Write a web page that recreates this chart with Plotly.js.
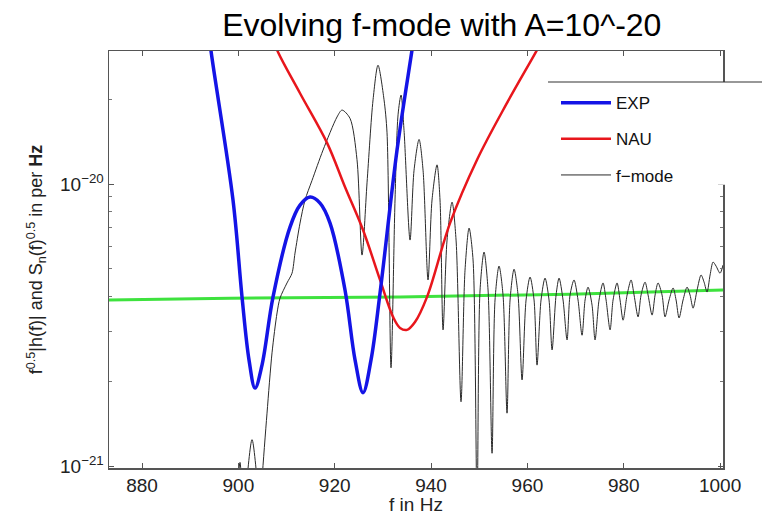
<!DOCTYPE html>
<html><head><meta charset="utf-8">
<script src="https://cdn.plot.ly/plotly-3.0.1.min.js"></script>
<style>html,body{margin:0;padding:0;background:#fff}#chart{width:762px;height:515px}</style>
</head><body><div id="chart"></div>
<script>
// all amplitudes in units of 1e-21 (per Hz^0.5)
const UNIT = 1e-21;

const expFreq = [893.29, 894.32, 898.89, 900.76, 902.21, 903.46, 904.91, 907.20, 910.72, 912.80, 914.88, 916.95, 919.03, 922.14, 924.22, 925.88, 927.54, 929.41, 932.94, 936.05, 937.30];
const expVal  = [41.4, 29.7, 8.78, 3.98, 2.38, 1.89, 2.28, 3.98, 7.04, 8.42, 8.99, 8.56, 7.27, 4.21, 2.38, 1.82, 2.38, 4.11, 13.2, 29.9, 41.4];

const nauFreq = [906.57, 908.03, 912.80, 918.41, 922.14, 925.88, 929.41, 932.11, 933.56, 935.01, 936.67, 939.17, 943.94, 949.55, 955.77, 962.00, 963.66];
const nauVal  = [35.2, 29.9, 21.0, 14.0, 9.76, 6.87, 4.57, 3.38, 3.09, 3.04, 3.24, 3.98, 7.27, 12.2, 19.4, 29.9, 33.8];

const noiseFreq = [873.15, 898.3, 933.6, 968.9, 1000.6];
const noiseVal  = [3.88, 3.94, 3.98, 4.07, 4.21];

const fmodeFreq = [899.51, 900.34, 901.18, 901.59, 902.84, 904.08, 904.50, 904.91,
  905.95, 906.99, 908.03, 908.65, 910.10, 911.14, 911.76, 912.80, 913.84, 915.29, 917.58, 920.48,
  921.52, 923.18, 924.63, 925.67, 926.71, 927.96, 928.99, 930.24, 930.86, 931.69,
  932.52, 933.15, 933.77, 934.39, 935.64, 936.47, 937.51, 938.34, 939.37, 940.20,
  941.24, 941.86, 942.49, 943.32, 944.36, 945.19, 946.22, 947.05, 947.89, 948.72,
  949.55, 950.17, 951.00, 951.83, 952.66, 953.28, 954.11, 954.94, 955.77, 956.40,
  957.23, 958.06, 958.89, 959.72, 960.55, 961.38, 962.00, 962.83, 963.66, 964.49,
  965.12, 965.95, 966.57, 967.40, 968.23, 968.85, 969.68, 970.51, 971.34, 971.97,
  972.59, 973.42, 974.04, 974.87, 975.70, 976.33, 977.16, 977.78, 978.61, 979.23,
  979.86, 980.69, 981.52, 982.14, 982.97, 983.59, 984.42, 985.05, 985.88, 986.50,
  987.12, 987.95, 988.57, 989.41, 990.24, 990.86, 991.48, 992.31, 993.14, 993.76,
  994.39, 995.22, 996.05, 996.67, 997.29, 997.92, 998.54, 999.16, 999.99, 1000.6];
const fmodeVal = [0.64, 1.03, 0.64, 0.82, 1.24, 0.82, 0.64, 0.89,
  1.54, 2.52, 3.49, 3.94, 4.46, 4.83, 5.69, 7.27, 8.78, 10.3, 13.2, 17.3,
  18.3, 17.1, 12.2, 5.60, 10.1, 19.9, 26.4, 19.9, 15.2, 2.23,
  8.78, 17.6, 20.7, 15.5, 6.33, 11.2, 14.4, 11.2, 4.57, 8.78,
  11.7, 8.78, 3.04, 6.33, 8.63, 6.33, 1.69, 4.95, 6.98, 5.38,
  0.70, 4.21, 5.74, 4.21, 1.11, 3.88, 5.12, 4.04, 1.54, 3.88,
  4.99, 4.04, 2.02, 3.88, 4.68, 3.88, 2.28, 3.88, 4.64, 3.88,
  2.58, 4.04, 4.64, 3.88, 2.80, 4.04, 4.57, 3.88, 2.91, 3.88,
  4.31, 3.72, 2.80, 3.88, 4.46, 3.88, 3.04, 3.88, 4.46, 3.88,
  3.29, 4.04, 4.57, 4.04, 3.38, 4.04, 4.49, 4.04, 3.43, 4.04,
  4.46, 4.04, 3.38, 3.88, 4.28, 3.88, 3.35, 3.88, 4.31, 4.04,
  3.63, 4.21, 4.76, 4.49, 4.14, 4.76, 5.29, 5.12, 4.83, 5.16];

const xTicks = [880, 900, 920, 940, 960, 980, 1000];
const yTickVals = [1e-21, 1e-20];
const yTickText = ['10<sup>\u221221</sup>', '10<sup>\u221220</sup>'];
const yMinor = [2e-21, 3e-21, 4e-21, 5e-21, 6e-21, 7e-21, 8e-21, 9e-21, 2e-20];

const scale = a => a.map(v => v * UNIT);
const FONT = 'Liberation Sans, Arial, Helvetica, sans-serif';

const traces = [
  {x: noiseFreq, y: scale(noiseVal), mode: 'lines', showlegend: false,
   line: {color: '#3ee23e', width: 3}},
  {x: fmodeFreq, y: scale(fmodeVal), mode: 'lines', name: 'f\u2212mode', legendgroup: 'c', legendrank: 3,
   line: {color: '#2a2a2a', width: 1, shape: 'spline', smoothing: 0.8}},
  {x: nauFreq, y: scale(nauVal), mode: 'lines', name: 'NAU', legendgroup: 'b', legendrank: 2,
   line: {color: '#e8161c', width: 2.5, shape: 'spline', smoothing: 1}},
  {x: expFreq, y: scale(expVal), mode: 'lines', name: 'EXP', legendgroup: 'a', legendrank: 1,
   line: {color: '#1414e6', width: 3.5, shape: 'spline', smoothing: 1}}
];

const axisCommon = {
  showline: true, linecolor: '#555', linewidth: 1.5, mirror: 'ticks',
  ticks: 'inside', ticklen: 5, tickcolor: '#555', tickwidth: 1,
  showgrid: false, zeroline: false,
  tickfont: {family: FONT, size: 19, color: '#222'}
};

const layout = {
  width: 762, height: 515,
  margin: {l: 109, r: 39, t: 51, b: 47},
  paper_bgcolor: '#fff', plot_bgcolor: '#fff',
  font: {family: FONT, color: '#222'},
  title: {text: 'Evolving f-mode with A=10^-20', x: 0.542, xref: 'paper', xanchor: 'center',
          y: 0.952, yref: 'container', yanchor: 'middle',
          font: {family: FONT, size: 32, color: '#000'}},
  xaxis: Object.assign({}, axisCommon, {
    range: [873.15, 1000.6], tickmode: 'array', tickvals: xTicks,
    title: {text: 'f in Hz', standoff: 1, font: {family: FONT, size: 19, color: '#222'}}
  }),
  yaxis: Object.assign({}, axisCommon, {
    type: 'log', range: [-21.007, -19.528], tickmode: 'array',
    tickvals: yTickVals, ticktext: yTickText,
    minor: {tickmode: 'array', tickvals: yMinor, ticks: 'inside', ticklen: 3, tickcolor: '#777'},
    title: {text: 'f<sup>0.5</sup>|h(f)| and S<sub>n</sub>(f)<sup>0.5</sup> in per <b>Hz</b>',
            standoff: 12, font: {family: FONT, size: 18, color: '#222'}}
  }),
  legend: {x: 0.728, xanchor: 'left', y: 0.918, yanchor: 'top',
           bgcolor: 'rgba(0,0,0,0)', borderwidth: 0, itemwidth: 50,
           traceorder: 'grouped', tracegroupgap: 11,
           font: {family: FONT, size: 17, color: '#111'}},
  shapes: [
    {type: 'rect', xref: 'paper', yref: 'paper', x0: 0.715, x1: 1.07, y0: 0.679, y1: 0.9257,
     fillcolor: '#fff', line: {width: 0}, layer: 'above'},
    {type: 'line', xref: 'paper', yref: 'paper', x0: 0.715, x1: 1.07, y0: 0.9257, y1: 0.9257,
     line: {color: '#333', width: 1.2}, layer: 'above'}
  ]
};

Plotly.newPlot('chart', traces, layout, {displayModeBar: false, staticPlot: true});
</script></body></html>
